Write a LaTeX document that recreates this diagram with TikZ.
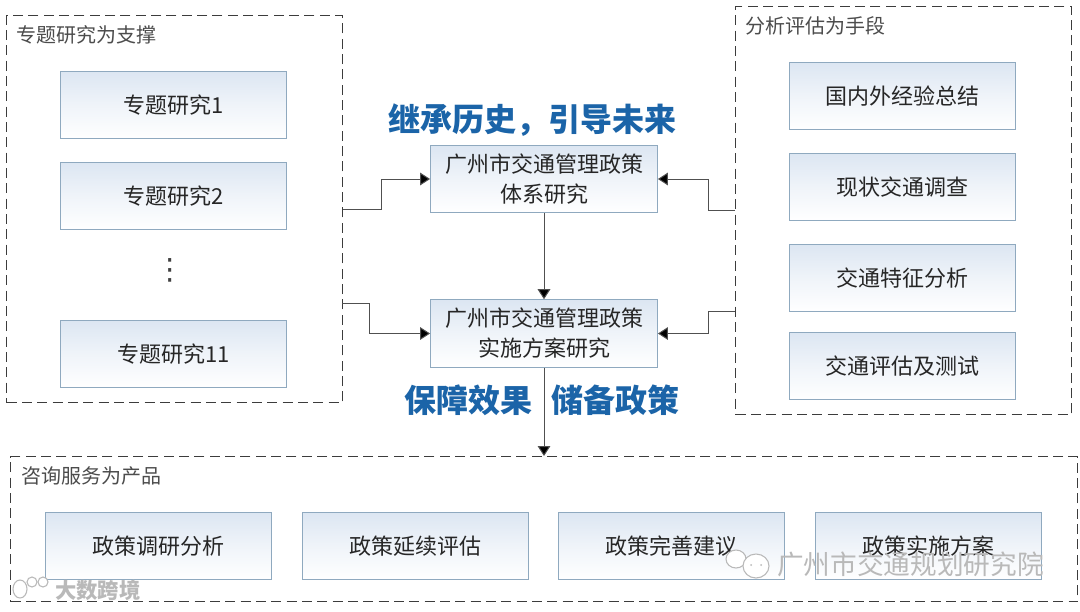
\documentclass[tikz,border=0pt]{standalone}
\usepackage{fontspec}
\setmainfont{Noto Sans CJK SC}
\newfontfamily\symfont{DejaVu Sans}
\usetikzlibrary{arrows.meta}
\definecolor{wmgray}{HTML}{B9B9B9}
\definecolor{headblue}{HTML}{1B64A8}
\definecolor{edgeblue}{HTML}{8FA9BF}
\definecolor{topfill}{HTML}{DCE6F2}
\definecolor{linegray}{HTML}{3C3C3C}
\definecolor{wiregray}{HTML}{505050}
\tikzset{
  x=0.75pt,y=-0.75pt,
  groupbox/.style={draw=linegray,line width=1pt,dash pattern=on 7.5pt off 4pt,anchor=north west,inner sep=0pt},
  itembox/.style={draw=edgeblue,line width=0.9pt,top color=topfill,bottom color=white,middle color=white!55!topfill,anchor=center,
    minimum width=170pt,minimum height=50.5pt,inner sep=0pt,align=center,font=\fontsize{16.5}{22.5}\selectfont,text=black!85},
  grouptitle/.style={anchor=west,inner sep=0pt,font=\fontsize{15}{18}\selectfont,text=black!70},
  slogan/.style={inner sep=0pt,font=\fontsize{24}{28}\selectfont\bfseries,text=headblue},
  wire/.style={draw=wiregray,line width=0.75pt,-{Triangle[length=7.5pt,width=9.5pt,fill=black]}},
  watermark/.style={inner sep=0pt,text=wmgray},
  wechat/.style={draw=wmgray,fill=white,line width=0.8pt}
}
\begin{document}
\begin{tikzpicture}
\useasboundingbox (0,0) rectangle (1080,611);
\fill[white] (0,0) rectangle (1080,611);

% group frames
\node[groupbox,minimum width=252pt,minimum height=290.25pt] (lg) at (6,15) {};
\node[groupbox,minimum width=252pt,minimum height=306pt] (rg) at (735,6) {};
\node[groupbox,minimum width=800.25pt,minimum height=108.75pt] (bg) at (10,456) {};
\node[grouptitle] (lt) at (16,35) {专题研究为支撑};
\node[grouptitle] (rt) at (745,26) {分析评估为手段};
\node[grouptitle] (bt) at (21,476) {咨询服务为产品};

% left column
\node[itembox] (l1) at (173.5,105) {专题研究1};
\node[itembox] (l2) at (173.5,196) {专题研究2};
\node[itembox] (l3) at (173.5,354) {专题研究11};
\node[inner sep=0pt,font=\symfont\fontsize{22}{22}\selectfont,text=black!75] (dots) at (170,270) {⋮};

% right column
\node[itembox] (r1) at (902.5,96) {国内外经验总结};
\node[itembox] (r2) at (902.5,187) {现状交通调查};
\node[itembox] (r3) at (902.5,278) {交通特征分析};
\node[itembox] (r4) at (902.5,366) {交通评估及测试};

% centre
\node[itembox] (c1) at (544,179) {广州市交通管理政策\\体系研究};
\node[itembox] (c2) at (544,333.5) {广州市交通管理政策\\实施方案研究};
\node[slogan] (s1) at (532,120) {继承历史，引导未来};
\node[slogan] (s2) at (468,400) {保障效果};
\node[slogan] (s3) at (615,400) {储备政策};

% bottom row
\node[itembox] (b1) at (158.5,546) {政策调研分析};
\node[itembox] (b2) at (415.5,546) {政策延续评估};
\node[itembox] (b3) at (671.5,546) {政策完善建议};
\node[itembox] (b4) at (928.5,546) {政策实施方案};

% connectors
\coordinate (lo) at (342,303);
\coordinate (ro) at (735,311);
\coordinate (bin) at (544,456);
\draw[wire] (lg.east) -- ++(38,0) |- (c1.west);
\draw[wire] (lo) -- ++(27,0) |- (c2.west);
\draw[wire] (rg.west) -- ++(-27,0) |- (c1.east);
\draw[wire] (ro) -- ++(-27,0) |- (c2.east);
\draw[wire] (c1.south) -- (c2.north);
\draw[wire] (c2.south) -- (bin);

% watermarks
\draw[wechat] (736,559) ellipse (10 and 9);
\draw[wechat] (756,566) ellipse (13 and 12);
\fill[wmgray] (751,565) circle (1) (761,565) circle (1);
\draw[wechat] (20,589) ellipse (7 and 9);
\draw[wechat] (32,582) ellipse (5 and 5);
\draw[wechat] (43,582) ellipse (5 and 5);
\node[watermark,anchor=west,font=\fontsize{20}{24}\selectfont] (w1) at (777,564) {广州市交通规划研究院};
\node[watermark,anchor=west,font=\fontsize{16}{20}\selectfont\bfseries] (w2) at (55,590) {大数跨境};
\end{tikzpicture}
\end{document}
